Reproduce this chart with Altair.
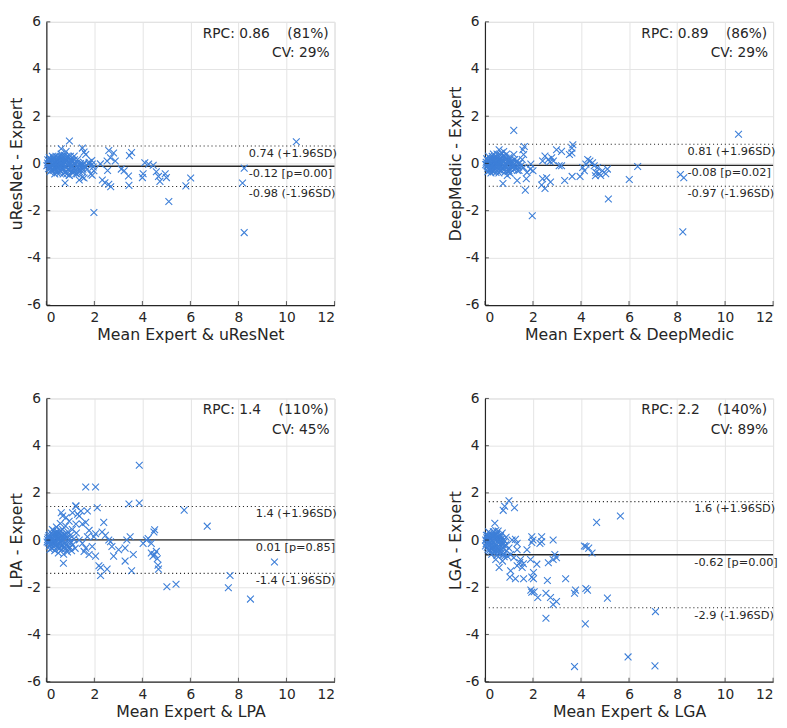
import altair as alt
import pandas as pd

FONT = "DejaVu Sans"
BLUE = "#3d7fd8"
INK = "#262626"
GRID = "#e3e3e3"
XSHAPE = "M-1,-1L1,1M-1,1L1,-1"

X_TICKS = [0, 2, 4, 6, 8, 10, 12]
Y_TICKS = [-6, -4, -2, 0, 2, 4, 6]

# ---------------- data (mean of the two, difference) ----------------
URESNET_PTS = [
    (0.96, 0.95), (10.41, 0.92), (1.98, -2.08), (8.24, -2.93), (5.1, -1.61), (8.24, -0.2), (8.17, -0.83),
    (6.01, -0.62), (5.81, -0.95), (0.78, -0.83), (1.5, 0.65), (1.57, 0.48), (1.64, 0.38), (2.6, 0.55),
    (2.8, 0.44), (2.67, 0.24), (2.87, 0.1), (2.53, 0.1), (3.55, 0.46), (3.46, 0.33), (4.1, 0.03),
    (4.26, -0.03), (4.45, -0.08), (4.03, -0.44), (4.0, -0.6), (4.58, -0.35), (4.67, -0.55), (4.73, -0.76),
    (4.95, -0.44), (5.0, -0.6), (3.12, -0.24), (3.24, -0.31), (3.42, -0.53), (3.44, -0.93), (2.33, -0.7),
    (2.44, -0.82), (2.6, -0.88), (2.68, -0.99), (2.25, -0.02), (2.55, -0.3), (1.91, -0.5), (1.98, -0.31),
    (1.91, -0.03), (1.78, 0.05), (1.71, -0.24), (1.57, -0.62), (1.37, -0.7), (1.85, -0.45), (1.95, -0.15),
    (1.89, 0.12), (0.96, -0.51), (1.09, -0.31), (1.23, -0.44), (0.62, 0.62), (0.82, 0.5), (1.16, 0.31),
    (1.3, 0.17), (1.57, 0.03), (1.78, -0.03), (1.5, -0.58),
    (0.05, 0.02), (0.08, -0.05), (0.1, 0.1), (0.12, -0.12), (0.15, 0.05), (0.18, -0.2), (0.2, 0.15),
    (0.22, -0.08), (0.25, 0.0), (0.28, -0.3), (0.3, 0.2), (0.32, -0.15), (0.35, 0.08), (0.38, -0.25),
    (0.4, 0.3), (0.42, -0.05), (0.45, -0.4), (0.48, 0.12), (0.5, -0.18), (0.52, 0.25), (0.55, -0.1),
    (0.58, 0.05), (0.6, -0.3), (0.62, 0.4), (0.65, -0.2), (0.68, 0.15), (0.7, -0.45), (0.72, 0.0),
    (0.75, 0.35), (0.78, -0.15), (0.8, 0.2), (0.82, -0.35), (0.85, 0.1), (0.88, -0.05), (0.9, -0.25),
    (0.93, 0.28), (0.95, -0.5), (0.98, 0.05), (1.0, -0.15), (1.03, 0.18), (1.05, -0.35), (1.08, -0.1),
    (1.1, 0.1), (1.12, -0.4), (1.15, -0.2), (1.18, 0.0), (1.2, -0.3), (1.25, -0.12), (1.28, -0.45),
    (1.3, 0.05), (1.35, -0.25), (1.4, -0.08), (1.45, -0.2), (1.5, -0.35), (1.55, -0.05), (0.15, -0.35),
    (0.25, 0.3), (0.35, -0.45), (0.45, 0.25), (0.55, -0.4), (0.65, 0.3), (0.3, -0.05), (0.5, 0.0),
    (0.7, 0.1), (0.2, -0.15), (0.4, -0.12), (0.6, -0.08), (0.85, -0.45), (1.0, 0.3), (0.12, 0.25),
    (0.02, -0.1), (0.06, 0.15), (0.09, -0.22), (0.14, 0.18), (0.17, 0.0), (0.21, -0.28), (0.24, 0.1),
    (0.27, -0.12), (0.31, 0.25), (0.34, -0.2), (0.37, 0.02), (0.41, -0.32), (0.44, 0.15), (0.47, -0.08),
    (0.51, 0.1), (0.54, -0.28), (0.57, 0.3), (0.61, 0.0), (0.64, -0.12), (0.67, 0.22), (0.71, -0.22),
    (0.74, 0.05), (0.77, -0.38), (0.81, 0.12), (0.84, -0.18), (0.87, 0.3), (0.91, 0.0), (0.94, -0.3),
    (0.97, 0.15), (1.01, -0.05), (1.06, 0.12), (1.13, -0.22), (1.17, 0.15), (1.22, -0.02), (1.32, -0.18),
    (1.38, -0.35), (1.42, 0.0), (1.48, -0.1), (1.52, -0.25), (1.6, -0.15),
]

DEEPMEDIC_PTS = [
    (1.2, 1.4), (10.56, 1.24), (1.97, -2.22), (8.24, -2.9), (5.14, -1.51), (6.01, -0.68), (6.36, -0.13),
    (8.14, -0.47), (8.28, -0.61), (3.66, 0.79), (3.62, 0.65), (3.62, 0.44), (3.52, 0.38), (2.98, 0.58),
    (3.19, 0.51), (2.5, 0.31), (2.64, 0.17), (2.71, 0.07), (2.85, 0.1), (2.78, 0.24), (3.09, -0.1),
    (3.19, -0.1), (2.4, 0.1), (4.28, 0.17), (4.37, 0.1), (4.2, -0.03), (4.07, -0.17), (4.14, -0.31),
    (4.48, 0.03), (4.55, -0.1), (4.69, -0.17), (4.62, -0.38), (4.76, -0.44), (4.89, -0.31), (5.1, -0.24),
    (5.03, -0.44), (4.82, -0.51), (4.6, -0.52), (3.96, -0.55), (3.63, -0.55), (3.32, -0.72), (2.73, -0.79),
    (2.5, -1.06), (2.36, -0.92), (2.4, -0.65), (2.57, -0.61), (1.68, -1.13), (1.72, -0.65), (1.34, -0.72),
    (1.75, -0.38), (1.89, -0.24), (2.0, -0.31), (1.91, -0.03), (1.61, -0.17), (1.55, 0.17), (1.61, 0.38),
    (1.58, 0.58), (1.64, 0.72), (0.75, -0.85), (0.59, 0.58), (0.68, 0.44), (0.79, 0.31), (1.2, 0.38),
    (1.23, 0.17), (1.07, -0.03), (1.0, -0.31), (0.93, -0.51),
    (0.05, 0.05), (0.08, -0.1), (0.1, 0.15), (0.12, -0.2), (0.15, 0.0), (0.18, 0.1), (0.2, -0.3),
    (0.22, 0.2), (0.25, -0.05), (0.28, -0.15), (0.3, 0.3), (0.32, 0.05), (0.35, -0.35), (0.38, 0.12),
    (0.4, -0.1), (0.42, 0.25), (0.45, -0.25), (0.48, 0.02), (0.5, 0.4), (0.52, -0.15), (0.55, 0.1),
    (0.58, -0.4), (0.6, 0.2), (0.62, -0.05), (0.65, 0.35), (0.68, -0.3), (0.7, 0.0), (0.72, 0.15),
    (0.75, -0.2), (0.78, 0.5), (0.8, -0.1), (0.82, 0.08), (0.85, -0.35), (0.88, 0.22), (0.9, -0.05),
    (0.95, 0.12), (0.98, -0.22), (1.02, 0.05), (1.05, -0.42), (1.1, -0.15), (1.15, 0.0), (1.2, -0.25),
    (1.25, -0.1), (1.3, 0.05), (1.35, -0.3), (1.4, -0.15), (1.45, 0.02), (0.15, 0.3), (0.25, -0.4),
    (0.35, 0.4), (0.45, 0.15), (0.55, -0.25), (0.65, -0.15), (0.3, -0.2), (0.5, -0.05), (0.7, 0.28),
    (0.2, 0.05), (0.4, 0.0), (0.6, 0.05), (0.9, 0.4), (1.0, 0.25), (0.12, -0.35),
    (0.03, -0.05), (0.07, 0.2), (0.11, -0.12), (0.16, 0.12), (0.19, -0.22), (0.23, 0.02), (0.26, 0.18),
    (0.29, -0.3), (0.33, -0.08), (0.36, 0.2), (0.39, -0.2), (0.43, 0.05), (0.46, -0.38), (0.49, 0.28),
    (0.53, 0.0), (0.56, -0.12), (0.59, 0.15), (0.63, -0.3), (0.66, 0.05), (0.69, 0.2), (0.73, -0.1),
    (0.76, 0.1), (0.79, -0.28), (0.83, 0.25), (0.86, -0.15), (0.92, 0.08), (0.96, -0.35), (1.04, 0.15),
    (1.08, -0.25), (1.12, 0.1), (1.18, -0.08), (1.28, -0.2), (1.33, 0.1), (1.42, -0.3), (1.5, -0.1),
]

LPA_PTS = [
    (3.87, 3.17), (1.64, 2.25), (2.05, 2.25), (1.23, 1.43), (2.12, 1.37), (3.44, 1.53), (3.87, 1.57),
    (5.74, 1.27), (6.7, 0.59), (9.5, -0.93), (7.65, -1.5), (7.58, -2.02), (8.5, -2.5), (5.02, -1.98),
    (5.4, -1.87), (4.65, -1.07), (4.67, -1.23), (4.62, -0.79), (4.51, -0.61), (4.44, -0.68), (4.37, -0.55),
    (4.58, -0.48), (4.51, 0.44), (4.48, 0.34), (4.03, -0.14), (4.17, 0.0), (4.24, 0.07), (4.37, -0.14),
    (3.55, -1.3), (3.62, -0.61), (3.28, -0.89), (3.28, -0.34), (3.35, 0.0), (3.49, 0.14), (2.8, -0.68),
    (3.01, -0.41), (2.73, -0.27), (2.67, -0.07), (2.6, 0.0), (2.46, 0.2), (2.32, 0.34), (2.39, 0.75),
    (2.26, -1.5), (2.19, -1.09), (2.26, -1.16), (2.53, -1.23), (2.05, -0.68), (1.91, -0.27), (1.98, 0.14),
    (2.05, 0.27), (1.78, -0.61), (1.64, -0.34), (1.5, -0.14), (1.57, -0.48), (1.37, 0.0), (1.71, 0.14),
    (1.78, 0.41), (1.64, 0.75), (1.5, 0.68), (1.37, 1.02), (1.44, 1.23), (1.71, 1.23), (0.68, 1.02),
    (0.62, 1.16), (0.82, 0.96), (1.09, 1.16), (1.23, 0.68), (0.71, -0.98), (1.23, 1.45), (1.3, 1.1),
    (0.05, 0.02), (0.08, -0.12), (0.1, 0.18), (0.12, -0.25), (0.15, 0.08), (0.18, -0.05), (0.2, 0.3),
    (0.22, -0.35), (0.25, 0.12), (0.28, -0.18), (0.3, 0.4), (0.32, 0.0), (0.35, -0.45), (0.38, 0.22),
    (0.4, -0.1), (0.42, 0.55), (0.45, -0.3), (0.48, 0.1), (0.5, -0.55), (0.52, 0.3), (0.55, -0.05),
    (0.58, 0.7), (0.6, -0.25), (0.62, 0.15), (0.65, -0.4), (0.68, 0.45), (0.7, 0.0), (0.72, -0.6),
    (0.75, 0.25), (0.78, -0.15), (0.8, 0.6), (0.82, -0.35), (0.85, 0.1), (0.88, -0.5), (0.9, 0.35),
    (0.92, -0.1), (0.95, 0.8), (0.98, -0.3), (1.0, 0.2), (1.05, -0.45), (1.08, 0.45), (1.1, -0.2),
    (1.15, 0.05), (1.2, -0.35), (1.25, 0.3), (0.15, -0.4), (0.25, 0.45), (0.35, 0.3), (0.45, 0.35),
    (0.55, -0.35), (0.3, -0.1), (0.5, 0.05), (0.2, -0.2), (0.4, 0.15), (0.6, 0.4),
    (0.03, -0.08), (0.07, 0.1), (0.11, -0.05), (0.14, 0.22), (0.17, -0.2), (0.21, 0.05), (0.24, -0.1),
    (0.27, 0.25), (0.31, -0.28), (0.34, 0.12), (0.37, -0.05), (0.41, 0.3), (0.44, -0.2), (0.47, 0.0),
    (0.51, 0.2), (0.54, -0.15), (0.57, 0.1), (0.61, -0.05), (0.64, 0.25), (0.67, -0.2), (0.71, 0.15),
    (0.74, -0.3), (0.77, 0.05), (0.83, -0.2), (0.87, 0.25), (0.93, -0.35), (0.97, 0.05), (1.03, -0.1),
]

LGA_PTS = [
    (1.0, 1.67), (0.82, 1.43), (0.76, 1.26), (1.23, 1.37), (0.41, 0.71), (5.64, 1.02), (4.65, 0.75),
    (4.14, -0.25), (4.32, -0.34), (4.46, -0.55), (4.21, -0.27), (2.84, 0.0), (2.36, 0.14), (2.36, -0.07),
    (2.29, -0.14), (1.95, 0.14), (2.0, 0.0), (2.91, -0.61), (2.98, -0.75), (2.84, -0.82), (2.64, -0.96),
    (2.16, -1.02), (1.9, -0.82), (1.75, -0.41), (3.36, -1.64), (2.6, -1.71), (2.02, -1.37), (1.95, -1.57),
    (2.02, -1.64), (1.91, -2.12), (2.05, -2.19), (1.95, -2.21), (2.2, -2.43), (2.54, -2.25), (2.73, -2.43),
    (2.84, -2.73), (2.98, -2.6), (2.54, -3.31), (3.73, -2.25), (3.77, -2.12), (4.2, -2.05), (4.27, -2.12),
    (5.1, -2.46), (4.18, -3.55), (7.1, -3.03), (5.96, -4.95), (7.08, -5.33), (3.73, -5.36), (1.04, -1.57),
    (1.27, -1.64), (1.61, -1.64), (1.07, -1.3), (1.34, -1.09), (1.55, -1.16), (1.48, -0.82), (1.2, -0.75),
    (0.93, -0.68), (1.34, -0.41), (0.59, -1.16), (0.73, -0.89), (0.45, -0.82), (0.79, -0.61), (0.52, -0.48),
    (0.86, -0.2), (1.13, 0.0), (1.27, 0.03), (1.34, -0.14), (1.0, -0.34), (1.07, -0.61), (1.95, -0.1),
    (1.45, -0.95), (1.6, -1.0),
    (0.03, 0.0), (0.05, -0.15), (0.08, 0.1), (0.1, -0.3), (0.12, 0.2), (0.15, -0.05), (0.18, -0.45),
    (0.2, 0.3), (0.22, -0.2), (0.25, 0.05), (0.28, -0.6), (0.3, 0.15), (0.32, -0.35), (0.35, 0.35),
    (0.38, -0.1), (0.4, -0.5), (0.42, 0.1), (0.45, -0.25), (0.48, 0.25), (0.5, -0.65), (0.52, -0.05),
    (0.55, 0.38), (0.58, -0.4), (0.6, 0.05), (0.62, -0.2), (0.65, 0.2), (0.68, -0.55), (0.7, -0.1),
    (0.72, 0.3), (0.75, -0.35), (0.78, 0.0), (0.8, -0.7), (0.85, -0.25), (0.88, 0.12), (0.15, 0.35),
    (0.25, -0.35), (0.35, -0.25), (0.45, 0.4), (0.2, -0.1), (0.3, -0.15), (0.4, 0.2), (0.5, 0.12),
    (0.6, -0.3), (0.1, 0.05), (0.65, -0.05),
    (0.02, -0.25), (0.06, 0.2), (0.09, -0.1), (0.13, -0.4), (0.16, 0.1), (0.19, -0.25), (0.23, 0.15),
    (0.26, -0.48), (0.29, -0.05), (0.33, 0.2), (0.36, -0.42), (0.39, 0.05), (0.43, -0.15), (0.46, 0.25),
    (0.49, -0.35), (0.53, 0.1), (0.56, -0.55), (0.59, -0.1), (0.63, 0.15), (0.66, -0.38), (0.69, 0.05),
    (0.73, -0.2), (0.76, -0.6), (0.82, -0.05), (0.9, -0.45),
]

# limits of agreement: (upper, mean, lower)
URESNET_LOA = (0.74, -0.12, -0.98)
DEEPMEDIC_LOA = (0.81, -0.08, -0.97)
LPA_LOA = (1.42, 0.01, -1.41)
LGA_LOA = (1.63, -0.62, -2.87)

URESNET_LABELS = ["0.74 (+1.96SD)", "-0.12 [p=0.00]", "-0.98 (-1.96SD)"]
DEEPMEDIC_LABELS = ["0.81 (+1.96SD)", "-0.08 [p=0.02]", "-0.97 (-1.96SD)"]
LPA_LABELS = ["1.4 (+1.96SD)", "0.01 [p=0.85]", "-1.4 (-1.96SD)"]
LGA_LABELS = ["1.6 (+1.96SD)", "-0.62 [p=0.00]", "-2.9 (-1.96SD)"]

NB = "\u00a0"
URESNET_STATS = ["RPC: 0.86" + NB * 4 + "(81%)", "CV: 29%"]
DEEPMEDIC_STATS = ["RPC: 0.89" + NB * 4 + "(86%)", "CV: 29%"]
LPA_STATS = ["RPC: 1.4" + NB * 4 + "(110%)", "CV: 45%"]
LGA_STATS = ["RPC: 2.2" + NB * 4 + "(140%)", "CV: 89%"]

PW, PH = 293, 288


def panel(pts, loa, labels, stats, label_x, xtitle, ytitle):
    xs = alt.Scale(domain=[0, 12], nice=False, zero=False)
    ys = alt.Scale(domain=[-6, 6], nice=False, zero=False)
    xax = alt.Axis(values=X_TICKS, title=xtitle, grid=True, gridColor=GRID, gridWidth=1,
                   domainColor=INK, domainWidth=1.2, ticks=False, labelPadding=6,
                   labelFontSize=14, labelColor=INK, labelFont=FONT, labelExpr="'' + datum.value",
                   titleFontSize=16, titleFontWeight="normal", titleColor=INK, titleFont=FONT,
                   titlePadding=2)
    yax = alt.Axis(values=Y_TICKS, title=ytitle, grid=True, gridColor=GRID, gridWidth=1,
                   domainColor=INK, domainWidth=1.2, ticks=False, labelPadding=6,
                   labelFontSize=14, labelColor=INK, labelFont=FONT, labelExpr="'' + datum.value",
                   titleFontSize=16, titleFontWeight="normal", titleColor=INK, titleFont=FONT,
                   titlePadding=2)

    X = lambda f: alt.X(f, scale=xs, axis=xax)
    Y = lambda f: alt.Y(f, scale=ys, axis=yax)

    pdf = pd.DataFrame(pts, columns=["m", "d"])
    points = alt.Chart(pdf).mark_point(shape=XSHAPE, size=48, strokeWidth=1.1, filled=False,
                                       color=BLUE, opacity=1).encode(x=X("m:Q"), y=Y("d:Q"))

    ldf = pd.DataFrame({"v": list(loa), "t": labels, "kind": ["lim", "mean", "lim"]})
    dotted = alt.Chart(ldf).transform_filter(alt.datum.kind == "lim").mark_rule(
        color=INK, strokeWidth=1.1, strokeDash=[1.1, 2.9]).encode(y=Y("v:Q"))
    solid = alt.Chart(ldf).transform_filter(alt.datum.kind == "mean").mark_rule(
        color=INK, strokeWidth=1.4).encode(y=Y("v:Q"))
    texts = alt.Chart(ldf).mark_text(align="left", baseline="middle", dy=8, fontSize=11.5,
                                     font=FONT, color=INK).encode(
        x=alt.X(datum=label_x, type="quantitative", scale=xs, axis=xax), y=Y("v:Q"), text="t:N")

    sdf = pd.DataFrame({"s": [stats[0]], "c": [stats[1]]})
    st1 = alt.Chart(sdf).mark_text(align="right", baseline="middle", dx=-6, dy=12, fontSize=14,
                                   font=FONT, color=INK).encode(
        x=alt.X(datum=12, type="quantitative", scale=xs, axis=xax),
        y=alt.Y(datum=6, type="quantitative", scale=ys, axis=yax), text="s:N")
    st2 = alt.Chart(sdf).mark_text(align="right", baseline="middle", dx=-5, dy=32, fontSize=14,
                                   font=FONT, color=INK).encode(
        x=alt.X(datum=12, type="quantitative", scale=xs, axis=xax),
        y=alt.Y(datum=6, type="quantitative", scale=ys, axis=yax), text="c:N")

    ytdf = pd.DataFrame({"t": Y_TICKS})
    xtdf = pd.DataFrame({"t": X_TICKS})
    yticks = alt.Chart(ytdf).mark_tick(orient="horizontal", size=4, thickness=1.1, color=INK,
                                       xOffset=2).encode(
        x=alt.X(datum=0, type="quantitative", scale=xs, axis=xax), y=Y("t:Q"))
    xticks = alt.Chart(xtdf).mark_tick(orient="vertical", size=4, thickness=1.1, color=INK,
                                       yOffset=-2).encode(
        x=X("t:Q"), y=alt.Y(datum=-6, type="quantitative", scale=ys, axis=yax))

    return alt.layer(dotted, solid, points, texts, st1, st2, yticks, xticks).properties(
        width=PW, height=PH)


p1 = panel(URESNET_PTS, URESNET_LOA, URESNET_LABELS, URESNET_STATS, 8.43,
           "Mean Expert & uResNet", "uResNet - Expert")
p2 = panel(DEEPMEDIC_PTS, DEEPMEDIC_LOA, DEEPMEDIC_LABELS, DEEPMEDIC_STATS, 8.43,
           "Mean Expert & DeepMedic", "DeepMedic - Expert")
p3 = panel(LPA_PTS, LPA_LOA, LPA_LABELS, LPA_STATS, 8.72,
           "Mean Expert & LPA", "LPA - Expert")
p4 = panel(LGA_PTS, LGA_LOA, LGA_LABELS, LGA_STATS, 8.72,
           "Mean Expert & LGA", "LGA - Expert")

chart = alt.vconcat(
    alt.hconcat(p1, p2, spacing=111),
    alt.hconcat(p3, p4, spacing=111),
    spacing=48,
).properties(padding={"left": 0, "top": 0, "right": 0, "bottom": 0}).configure_view(
    stroke=None).configure(background="white")

chart.save("out.html", embed_options={"renderer": "svg", "actions": False})
